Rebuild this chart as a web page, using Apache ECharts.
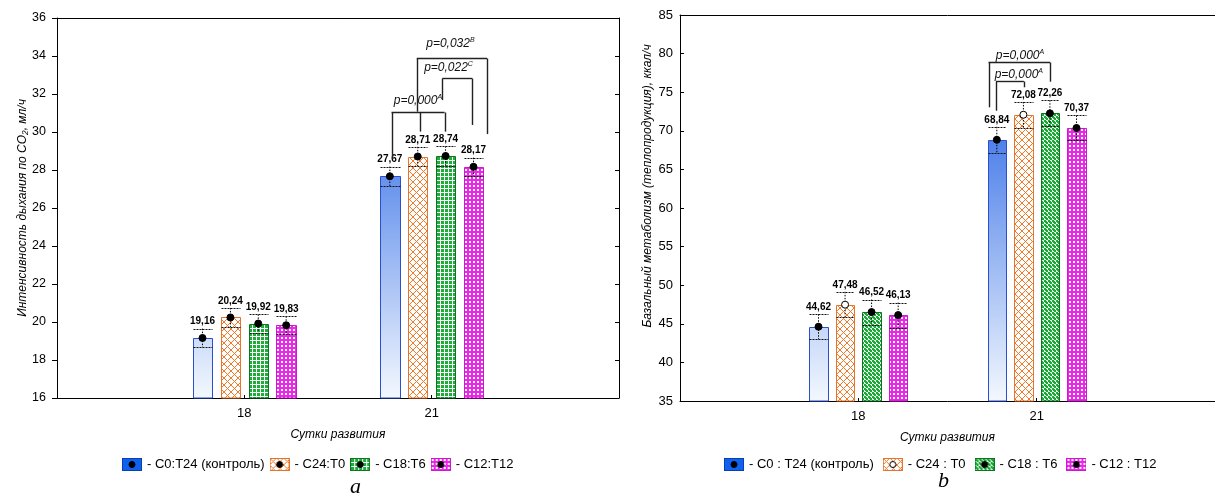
<!DOCTYPE html>
<html><head><meta charset="utf-8">
<script src="https://cdn.jsdelivr.net/npm/echarts@6/dist/echarts.min.js"></script>
<style>html,body{margin:0;padding:0;background:#fff}#c{width:1215px;height:495px}</style>
</head><body><div id="c"></div>
<script>
// ---------- data ----------
const days = [18, 21];
// chart a: CO2 respiration intensity
const groupsA = ['C0:T24 (контроль)', 'C24:T0', 'C18:T6', 'C12:T12'];
const c0A  = [19.16, 27.67];
const c24A = [20.24, 28.71];
const c18A = [19.92, 28.74];
const c12A = [19.83, 28.17];
const c0Aerr  = [0.49, 0.51];
const c24Aerr = [0.50, 0.51];
const c18Aerr = [0.48, 0.51];
const c12Aerr = [0.47, 0.48];
// chart b: basal metabolism
const groupsB = ['C0 : T24 (контроль)', 'C24 : T0', 'C18 : T6', 'C12 : T12'];
const c0B  = [44.62, 68.84];
const c24B = [47.48, 72.08];
const c18B = [46.52, 72.26];
const c12B = [46.13, 70.37];
const c0Berr  = [1.62, 1.68];
const c24Berr = [1.66, 1.66];
const c18Berr = [1.62, 1.70];
const c12Berr = [1.62, 1.62];
// axes
const yMinA = 16, yMaxA = 36, yStepA = 2;
const yMinB = 35, yMaxB = 85, yStepB = 5;
const xMin = 15, xMax = 24;
// significance annotations (data coordinates)
const bracketsA = [
  {xs: [20.357, 20.813, 21.207], ends: [28.58, 30.02, 30.02], level: 31.07, p: 'p=0,000', sup: 'A', tx: 20.78, ty: 31.65},
  {xs: [20.761, 21.888], ends: [31.07, 29.89], level: 33.88, p: 'p=0,032', sup: 'B', tx: 21.30, ty: 34.63},
  {xs: [21.171, 21.649], ends: [31.68, 30.37], level: 32.83, p: 'p=0,022', sup: 'C', tx: 21.27, ty: 33.37}
];
const bracketsB = [
  {xs: [20.19, 21.227], ends: [73.04, 76.36], level: 78.87, p: 'p=0,000', sup: 'A', tx: 20.72, ty: 79.69},
  {xs: [20.316, 20.785], ends: [72.6, 75.64], level: 76.45, p: 'p=0,000', sup: 'A', tx: 20.70, ty: 77.32}
];

// ---------- styles ----------
const FONT = '"Liberation Sans", Arial, sans-serif';
const OFFS = [-0.67, -0.223, 0.223, 0.67];
const HALF = 0.155;

function tile(w, h, draw) {
  const c = document.createElement('canvas'); c.width = w; c.height = h;
  const g = c.getContext('2d'); draw(g, w, h); return c;
}
const orangeTile = tile(7, 7, (g, w, h) => {
  g.fillStyle = '#fff'; g.fillRect(0, 0, w, h);
  g.strokeStyle = '#f07a2a'; g.lineWidth = 1;
  g.beginPath();
  for (const k of [-w, 0, w]) { g.moveTo(k, 0); g.lineTo(k + w, h); g.moveTo(k + w, 0); g.lineTo(k, h); }
  g.stroke();
});
const greenGridTile = tile(4, 4, (g, w, h) => {
  g.fillStyle = '#1cae38'; g.fillRect(0, 0, w, h);
  g.fillStyle = '#fff'; g.fillRect(0, 0, w, 1); g.fillRect(0, 0, 1, h);
});
const greenCheckTile = tile(4, 4, (g, w, h) => {
  g.fillStyle = '#e8f6ea'; g.fillRect(0, 0, w, h);
  g.fillStyle = '#1aa836'; g.fillRect(0, 0, 2, 2); g.fillRect(2, 2, 2, 2);
  g.fillRect(1, 1, 2, 2);
});
const magentaTile = tile(4, 4, (g, w, h) => {
  g.fillStyle = '#e82ae8'; g.fillRect(0, 0, w, h);
  g.fillStyle = '#fff'; g.fillRect(1, 1, 2, 2);
});
const pat = c => ({image: c, repeat: 'repeat'});
const BLUE_STOPS = [{offset: 0, color: '#0048e0'}, {offset: 1, color: '#f3f8fe'}];

const stylesA = [
  {fill: 'blue', stroke: '#2b4fd0', hollow: false},
  {fill: pat(orangeTile), stroke: '#e8742a', hollow: false},
  {fill: pat(greenGridTile), stroke: '#0e7424', hollow: false},
  {fill: pat(magentaTile), stroke: '#d414d4', hollow: false}
];
const stylesB = [
  {fill: 'blue', stroke: '#2b4fd0', hollow: false},
  {fill: pat(orangeTile), stroke: '#e8742a', hollow: true},
  {fill: pat(greenCheckTile), stroke: '#0e7424', hollow: false},
  {fill: pat(magentaTile), stroke: '#d414d4', hollow: false}
];

function legendIcon(fillTile, color, stroke, hollow) {
  const c = document.createElement('canvas'); c.width = 20; c.height = 13;
  const g = c.getContext('2d');
  g.fillStyle = fillTile ? g.createPattern(fillTile, 'repeat') : color;
  g.fillRect(0, 0, 20, 13);
  g.strokeStyle = stroke; g.lineWidth = 1; g.strokeRect(0.5, 0.5, 19, 12);
  g.beginPath(); g.arc(10, 6.5, 3, 0, Math.PI * 2);
  g.fillStyle = hollow ? '#fff' : '#000'; g.fill();
  g.strokeStyle = '#000'; g.stroke();
  return 'image://' + c.toDataURL();
}
const iconsA = [
  legendIcon(null, '#0f62ef', '#0a3fb0', false),
  legendIcon(orangeTile, null, '#e8742a', false),
  legendIcon(greenGridTile, null, '#0e7424', false),
  legendIcon(magentaTile, null, '#d414d4', false)
];
const iconsB = [
  legendIcon(null, '#0f62ef', '#0a3fb0', false),
  legendIcon(orangeTile, null, '#e8742a', true),
  legendIcon(greenCheckTile, null, '#0e7424', false),
  legendIcon(magentaTile, null, '#d414d4', false)
];

const fmt = v => v.toFixed(2).replace('.', ',');

function barSeries(name, means, errs, gi, grid) {
  const st = (grid === 0 ? stylesA : stylesB)[gi];
  const yMin = grid === 0 ? yMinA : yMinB, yMax = grid === 0 ? yMaxA : yMaxB;
  return {
    type: 'custom', name: name, xAxisIndex: grid === 0 ? 0 : 2, yAxisIndex: grid === 0 ? 0 : 2,
    data: days.map((d, i) => [d, means[i], errs[i]]),
    encode: {x: 0, y: 1}, z: 3,
    itemStyle: {color: st.stroke},
    renderItem: function (params, api) {
      const x = api.value(0), m = api.value(1), e = api.value(2);
      const off = OFFS[gi];
      const p1 = api.coord([x + off - HALF, m]);
      const p2 = api.coord([x + off + HALF, yMin]);
      const cx = api.coord([x + off, m])[0];
      const xl = Math.round(p1[0]) + 0.5, xr = Math.round(p2[0]) + 0.5;
      const yt = Math.round(p1[1]) + 0.5, yb = p2[1];
      const top = api.coord([x + off, m + e])[1], bot = api.coord([x + off, m - e])[1];
      let fill = st.fill;
      if (fill === 'blue') {
        const gTop = api.coord([x, yMax])[1], gBot = api.coord([x, yMin])[1];
        fill = new echarts.graphic.LinearGradient(0, gTop, 0, gBot, BLUE_STOPS, true);
      }
      return {
        type: 'group', children: [
          {type: 'rect', shape: {x: xl, y: yt, width: xr - xl, height: yb - yt}, style: {fill: fill, stroke: st.stroke, lineWidth: 1}},
          {type: 'line', shape: {x1: cx, y1: top, x2: cx, y2: bot}, style: {stroke: '#000', lineWidth: 1, lineDash: [1.5, 1.5]}},
          {type: 'line', shape: {x1: xl, y1: Math.round(top) + 0.5, x2: xr, y2: Math.round(top) + 0.5}, style: {stroke: '#111', lineWidth: 1.2, lineDash: [2, 1]}},
          {type: 'line', shape: {x1: xl, y1: Math.round(bot) + 0.5, x2: xr, y2: Math.round(bot) + 0.5}, style: {stroke: '#111', lineWidth: 1.2, lineDash: [2, 1]}},
          {type: 'circle', shape: {cx: cx, cy: p1[1], r: 3.5}, style: {fill: st.hollow ? '#fff' : '#000', stroke: '#000', lineWidth: 1}},
          {type: 'text', style: {text: fmt(m), x: cx, y: top - 2, align: 'center', verticalAlign: 'bottom', font: 'bold 10px ' + FONT, fill: '#000'}}
        ]
      };
    }
  };
}

function bracketSeries(list, grid) {
  return {
    type: 'custom', name: 'sig' + grid, xAxisIndex: grid === 0 ? 0 : 2, yAxisIndex: grid === 0 ? 0 : 2,
    data: list.map(b => [b.tx, b.ty]), encode: {x: 0, y: 1}, z: 4, silent: true,
    renderItem: function (params, api) {
      const b = list[params.dataIndex];
      const ch = [];
      const pl = api.coord([b.xs[0], b.level]), pr = api.coord([b.xs[b.xs.length - 1], b.level]);
      const ly = Math.round(pl[1]) + 0.5;
      ch.push({type: 'line', shape: {x1: pl[0], y1: ly, x2: pr[0], y2: ly}, style: {stroke: '#222', lineWidth: 1.4}});
      b.xs.forEach((xv, i) => {
        const px = Math.round(api.coord([xv, b.level])[0]) + 0.5;
        const py = api.coord([xv, b.ends[i]])[1];
        ch.push({type: 'line', shape: {x1: px, y1: ly, x2: px, y2: py}, style: {stroke: '#222', lineWidth: 1.4}});
      });
      const t = api.coord([b.tx, b.ty]);
      ch.push({type: 'text', style: {
        text: '{p|' + b.p + '}{s|' + b.sup + '}', x: t[0], y: t[1], align: 'center', verticalAlign: 'middle',
        rich: {
          p: {font: 'italic 12px ' + FONT, fill: '#111', lineHeight: 14},
          s: {font: 'italic 7px ' + FONT, fill: '#111', verticalAlign: 'top', lineHeight: 14}
        }
      }});
      return {type: 'group', children: ch};
    }
  };
}

const axisBlack = {color: '#000', width: 1};
const nameStyle = {fontStyle: 'italic', fontSize: 12, color: '#000', fontFamily: FONT};
const xLabelFmt = v => (days.indexOf(v) >= 0 ? String(v) : '');

const option = {
  animation: false,
  backgroundColor: '#fff',
  grid: [
    {left: 57, top: 18, width: 562, height: 380},
    {left: 680, top: 15, width: 544, height: 386}
  ],
  xAxis: [
    {type: 'value', gridIndex: 0, min: xMin, max: xMax, interval: 3,
      axisLine: {show: true, onZero: false, lineStyle: axisBlack},
      axisTick: {show: true, inside: true, length: 3, customValues: days, lineStyle: axisBlack},
      axisLabel: {customValues: days, formatter: xLabelFmt, fontSize: 13, color: '#000', margin: 9, fontFamily: FONT},
      splitLine: {show: false},
      name: 'Сутки развития', nameLocation: 'middle', nameGap: 31, nameTextStyle: nameStyle},
    {type: 'value', gridIndex: 0, position: 'top', min: xMin, max: xMax,
      axisLine: {show: true, onZero: false, lineStyle: axisBlack}, axisTick: {show: false}, axisLabel: {show: false}, splitLine: {show: false}},
    {type: 'value', gridIndex: 1, min: xMin, max: xMax, interval: 3,
      axisLine: {show: true, onZero: false, lineStyle: axisBlack},
      axisTick: {show: true, inside: true, length: 3, customValues: days, lineStyle: axisBlack},
      axisLabel: {customValues: days, formatter: xLabelFmt, fontSize: 13, color: '#000', margin: 9, fontFamily: FONT},
      splitLine: {show: false},
      name: 'Сутки развития', nameLocation: 'middle', nameGap: 31, nameTextStyle: nameStyle},
    {type: 'value', gridIndex: 1, position: 'top', min: xMin, max: xMax,
      axisLine: {show: true, onZero: false, lineStyle: axisBlack}, axisTick: {show: false}, axisLabel: {show: false}, splitLine: {show: false}}
  ],
  yAxis: [
    {type: 'value', gridIndex: 0, min: yMinA, max: yMaxA, interval: yStepA,
      axisLine: {show: true, onZero: false, lineStyle: axisBlack},
      axisTick: {show: true, inside: false, length: 5, lineStyle: axisBlack},
      axisLabel: {fontSize: 12.5, color: '#000', margin: 11, fontFamily: FONT},
      splitLine: {show: false},
      name: 'Интенсивность дыхания по CO₂, мл/ч', nameLocation: 'middle', nameGap: 26, nameTextStyle: nameStyle},
    {type: 'value', gridIndex: 0, position: 'right', min: yMinA, max: yMaxA, interval: yStepA,
      axisLine: {show: true, onZero: false, lineStyle: axisBlack},
      axisTick: {show: true, inside: true, length: 4, lineStyle: axisBlack},
      axisLabel: {show: false}, splitLine: {show: false}},
    {type: 'value', gridIndex: 1, min: yMinB, max: yMaxB, interval: yStepB,
      axisLine: {show: true, onZero: false, lineStyle: axisBlack},
      axisTick: {show: true, inside: true, length: 4, lineStyle: axisBlack},
      axisLabel: {fontSize: 13, color: '#000', margin: 7, fontFamily: FONT},
      splitLine: {show: false},
      name: 'Базальный метаболизм (теплопродукция), ккал/ч', nameLocation: 'middle', nameGap: 26,
      nameTextStyle: Object.assign({}, nameStyle, {padding: [0, 0, 0, 44]})}
  ],
  legend: [
    {data: groupsA.map((n, i) => ({name: n, icon: iconsA[i]})), left: 117, top: 453, itemWidth: 20, itemHeight: 13, itemGap: 5,
      selectedMode: false, formatter: '- {name}', textStyle: {fontSize: 13, color: '#000', fontFamily: FONT}},
    {data: groupsB.map((n, i) => ({name: n, icon: iconsB[i]})), left: 719, top: 453, itemWidth: 20, itemHeight: 13, itemGap: 9,
      selectedMode: false, formatter: '- {name}', textStyle: {fontSize: 13, color: '#000', fontFamily: FONT}}
  ],
  graphic: [
    {type: 'text', left: 350, top: 476, style: {text: 'а', font: 'italic 22px "Liberation Serif", serif', fill: '#000'}},
    {type: 'text', left: 938, top: 470, style: {text: 'b', font: 'italic 22px "Liberation Serif", serif', fill: '#000'}}
  ],
  series: [
    barSeries(groupsA[0], c0A, c0Aerr, 0, 0),
    barSeries(groupsA[1], c24A, c24Aerr, 1, 0),
    barSeries(groupsA[2], c18A, c18Aerr, 2, 0),
    barSeries(groupsA[3], c12A, c12Aerr, 3, 0),
    bracketSeries(bracketsA, 0),
    barSeries(groupsB[0], c0B, c0Berr, 0, 1),
    barSeries(groupsB[1], c24B, c24Berr, 1, 1),
    barSeries(groupsB[2], c18B, c18Berr, 2, 1),
    barSeries(groupsB[3], c12B, c12Berr, 3, 1),
    bracketSeries(bracketsB, 1)
  ]
};
const chart = echarts.init(document.getElementById('c'), null, {renderer: 'canvas'});
chart.setOption(option);
</script>
</body></html>
